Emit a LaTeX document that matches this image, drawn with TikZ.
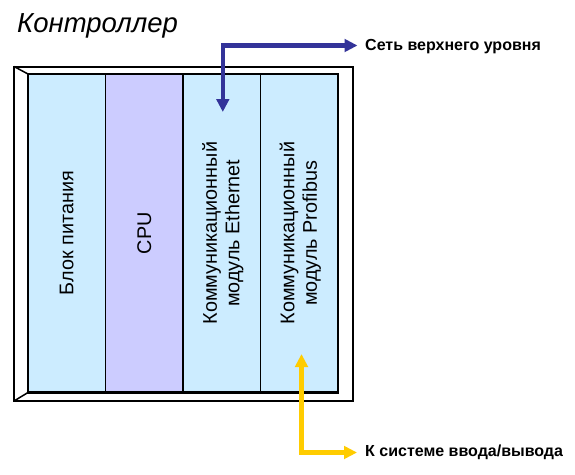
\documentclass[tikz,border=0pt]{standalone}
\usepackage{fontspec}
\setmainfont{Liberation Sans}
\usetikzlibrary{arrows.meta}
\definecolor{modblue}{HTML}{CCECFF}
\definecolor{cpuviolet}{HTML}{CCCCFF}
\definecolor{netblue}{HTML}{333399}
\definecolor{ioyellow}{HTML}{FFCC00}
\tikzset{
  modbox/.style={draw=black, line width=1.5pt, minimum width=77.5pt, minimum height=318.5pt, inner sep=0pt, outer sep=0pt, anchor=north west},
  modtext/.style={rotate=90, align=center, font=\fontsize{19.8}{22.5}\selectfont, inner sep=0pt},
  sidelabel/.style={font=\fontsize{16}{18}\selectfont\bfseries, inner sep=0pt, anchor=base west},
  conn/.style={line width=4.4pt, {Triangle[length=13pt,width=12.5pt]}-{Triangle[length=13pt,width=12.5pt]}},
}
\begin{document}
\begin{tikzpicture}[x=1pt,y=-1pt]
\useasboundingbox (0,0) rectangle (575,474);
% title
\node[font=\fontsize{27.5}{32}\selectfont\itshape, inner sep=0pt, anchor=base west] (title) at (17,32) {Контроллер};
% frame
\draw[line width=2pt, fill=white] (14,66.5) rectangle (352.5,401);
\draw[line width=1.5pt] (14,66.5) -- (28,74);
\draw[line width=1.5pt] (14,401) -- (28,392.5);
% modules
\node[modbox, fill=modblue] (psu) at (28,74) {};
\node[modbox, fill=cpuviolet] (cpu) at (105.5,74) {};
\node[modbox, fill=modblue] (eth) at (183,74) {};
\node[modbox, fill=modblue] (pb) at (260.5,74) {};
\draw[line width=2.4pt] (28,74) rectangle (338,392.5);
\node[modtext] (psut) at (psu.center) {Блок питания};
\node[modtext] (cput) at (cpu.center) {CPU};
\node[modtext] (etht) at ([xshift=1pt]eth.center) {Коммуникационный\\модуль Ethernet};
\node[modtext] (pbt) at ([xshift=1pt]pb.center) {Коммуникационный\\модуль Profibus};
% labels
\node[sidelabel] (net) at (365,50.7) {Сеть верхнего уровня};
\node[sidelabel] (io) at (365,456.7) {К системе ввода/вывода};
\coordinate (ethin) at (222.8,112);
\coordinate (netend) at (357.5,45.5);
\coordinate (pbin) at (301.5,354);
\coordinate (ioend) at (357,452.5);
\draw[conn, draw=netblue] (ethin) |- (netend);
\draw[conn, draw=ioyellow] (pbin) |- (ioend);
\end{tikzpicture}
\end{document}
